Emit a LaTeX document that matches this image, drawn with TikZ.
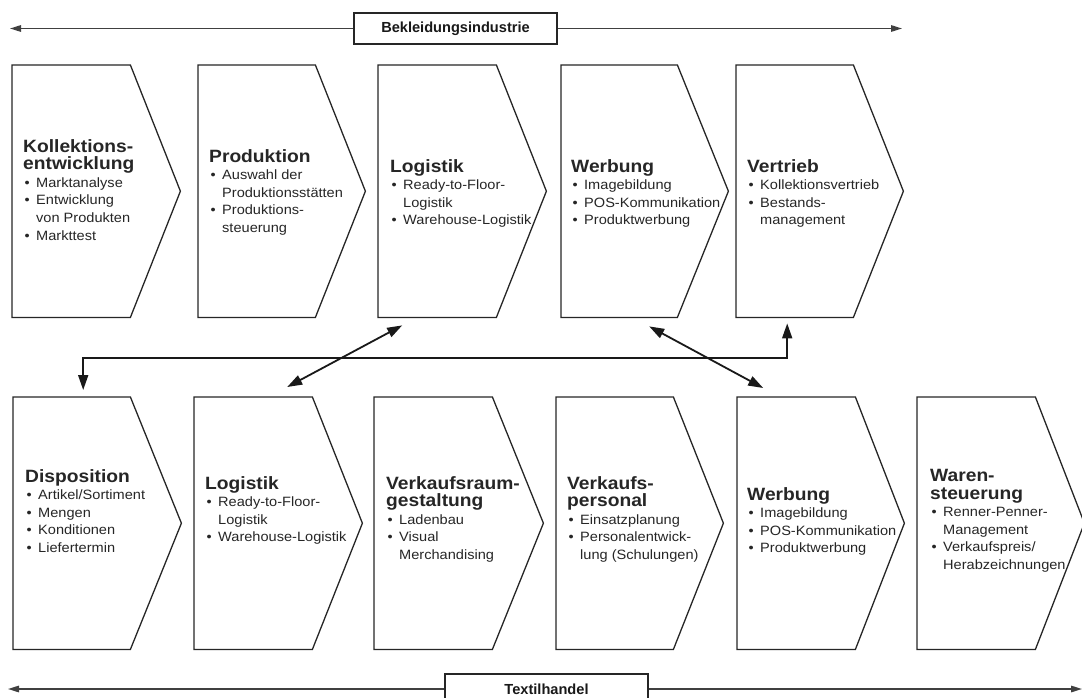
\documentclass[tikz,border=0pt]{standalone}
\usepackage{fontspec}
\setmainfont{Liberation Sans}[FakeStretch=1.08]
\newfontfamily\lblfont{Liberation Sans}
\usetikzlibrary{arrows.meta,calc}
\newcommand\ttl[1]{{\fontsize{17.8}{17}\selectfont\bfseries #1}}
\newcommand\bl[1]{\makebox[13pt][l]{\hspace*{1.5pt}•}#1}
\newcommand\cl[1]{\hspace*{13pt}#1}
% name, left, corner, tip, top, bottom
\newcommand\chevron[6]{%
  \node[draw=none,inner sep=0pt,anchor=north west,minimum width={#3pt-#2pt},minimum height={#6pt-#5pt}] (#1) at (#2,#5) {};
  \draw[chev] (#1.north west) -- (#1.north east) -- ($(#1.east)+(#4-#3,0)$) -- (#1.south east) -- (#1.south west) -- cycle;}
\begin{document}
\begin{tikzpicture}[x=1pt,y=-1pt,
 chev/.style={draw=black!85, line width=1.3pt, line join=miter, fill=white},
 body/.style={anchor=north west, align=left, inner sep=0pt, font=\fontsize{13.5}{17.6}\selectfont, text=black!85},
 conn/.style={draw=black!90, line width=1.8pt, {Triangle[length=15pt,width=10pt]}-{Triangle[length=15pt,width=10pt]}},
 span/.style={draw=black!75, line width=1.5pt, {Triangle[length=11pt,width=6.5pt]}-{Triangle[length=11pt,width=6.5pt]}},
 lbl/.style={draw=black!85, line width=1.3pt, fill=white, minimum width=203pt, minimum height=31pt, inner sep=0pt, text=black!90, font=\lblfont\fontsize{14.6}{16}\selectfont\bfseries}]
\useasboundingbox (0,0) rectangle (1082,698);
\clip (0,0) rectangle (1082,698);

% top span arrow
\coordinate (indL) at (10,28.5);
\coordinate (indR) at (902,28.5);
\draw[span] (indL) -- (indR);
\node[lbl] (ind) at (455.5,28.5) {Bekleidungsindustrie};

% bottom span arrow
\coordinate (thL) at (8,689);
\coordinate (thR) at (1082,689);
\draw[span] (thL) -- (thR);
\node[lbl] (th) at (546.5,689.5) {Textilhandel};

% top row
\chevron{t1}{12}{130}{180}{65}{317}
\chevron{t2}{198}{315}{365}{65}{317}
\chevron{t3}{378}{496}{546}{65}{317}
\chevron{t4}{561}{677}{728}{65}{317}
\chevron{t5}{736}{853}{903}{65}{317}
% bottom row
\chevron{b1}{13}{130}{181}{397}{649}
\chevron{b2}{194}{312}{362}{397}{649}
\chevron{b3}{374}{492}{543}{397}{649}
\chevron{b4}{556}{673}{723}{397}{649}
\chevron{b5}{737}{855}{904}{397}{649}
\chevron{b6}{917}{1035}{1084}{397}{649}

% texts top
\node[body] (t1x) at (23,139) {\ttl{Kollektions-}\\\ttl{entwicklung}\\\bl{Marktanalyse}\\\bl{Entwicklung}\\\cl{von Produkten}\\\bl{Markttest}};
\node[body] (t2x) at (209,149) {\ttl{Produktion}\\\bl{Auswahl der}\\\cl{Produktionsstätten}\\\bl{Produktions-}\\\cl{steuerung}};
\node[body] (t3x) at (390,159) {\ttl{Logistik}\\\bl{Ready-to-Floor-}\\\cl{Logistik}\\\bl{Warehouse-Logistik}};
\node[body] (t4x) at (571,159) {\ttl{Werbung}\\\bl{Imagebildung}\\\bl{POS-Kommunikation}\\\bl{Produktwerbung}};
\node[body] (t5x) at (747,159) {\ttl{Vertrieb}\\\bl{Kollektionsvertrieb}\\\bl{Bestands-}\\\cl{management}};
% texts bottom
\node[body] (b1x) at (25,469) {\ttl{Disposition}\\\bl{Artikel/Sortiment}\\\bl{Mengen}\\\bl{Konditionen}\\\bl{Liefertermin}};
\node[body] (b2x) at (205,476) {\ttl{Logistik}\\\bl{Ready-to-Floor-}\\\cl{Logistik}\\\bl{Warehouse-Logistik}};
\node[body] (b3x) at (386,476) {\ttl{Verkaufsraum-}\\\ttl{gestaltung}\\\bl{Ladenbau}\\\bl{Visual}\\\cl{Merchandising}};
\node[body] (b4x) at (567,476) {\ttl{Verkaufs-}\\\ttl{personal}\\\bl{Einsatzplanung}\\\bl{Personalentwick-}\\\cl{lung (Schulungen)}};
\node[body] (b5x) at (747,487) {\ttl{Werbung}\\\bl{Imagebildung}\\\bl{POS-Kommunikation}\\\bl{Produktwerbung}};
\node[body] (b6x) at (930,469) {\ttl{Waren-}\\\ttl{steuerung}\\\bl{Renner-Penner-}\\\cl{Management}\\\bl{Verkaufspreis/}\\\cl{Herabzeichnungen}};

% connectors
\coordinate (vA) at ($(t5.south)+(-7.5,6)$);
\coordinate (dA) at ($(b1.north)+(11.5,-7)$);
\coordinate (hl) at (0,358);
\draw[conn] (vA) -- (vA |- hl) -| (dA);
\coordinate (l1) at ($(t3.south)+(-35,8)$);
\coordinate (l2) at ($(b2.north)+(34,-10)$);
\draw[conn] (l1) -- (l2);
\coordinate (w1) at ($(t4.south)+(30,9)$);
\coordinate (w2) at ($(b5.north)+(-33,-9)$);
\draw[conn] (w1) -- (w2);
\end{tikzpicture}
\end{document}
